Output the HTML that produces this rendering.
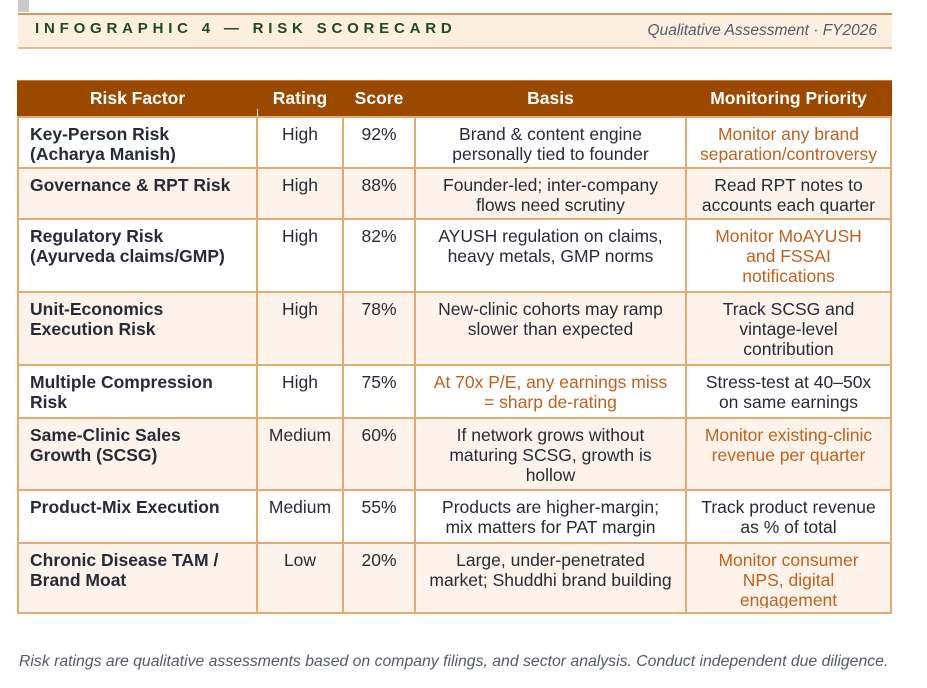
<!DOCTYPE html>
<html>
<head>
<meta charset="utf-8">
<style>
  html, body { margin:0; padding:0; }
  body { width:927px; height:688px; background:#ffffff; position:relative; overflow:hidden;
         font-family:"Liberation Sans", Arial, sans-serif; color:#272b37; }
  .abs { position:absolute; }
  .hl { position:absolute; left:17px; width:875px; height:2px; background:#e3ab70; }
  .vl { position:absolute; top:116px; width:2px; height:498px; background:#e3ab70; }
  .bg { position:absolute; left:17px; width:875px; }
  .c { position:absolute; font-size:17.5px; line-height:20px; white-space:nowrap; overflow:hidden; }
  .c1 { left:30px; width:225px; font-weight:bold; text-align:left; }
  .c2 { left:258px; width:84px; text-align:center; }
  .c3 { left:344px; width:70px; text-align:center; }
  .c4 { left:416px; width:269px; text-align:center; }
  .c5 { left:687px; width:203px; text-align:center; }
  .or { color:#c0611d; }
  .r1 { top:124px; height:38.5px; }
  .r2 { top:175px; height:38.5px; }
  .r3 { top:226px; height:59px; }
  .r4 { top:299px; height:59px; }
  .r5 { top:372px; height:40px; }
  .r6 { top:425px; height:58px; }
  .r7 { top:497px; height:40px; }
  .r8 { top:550px; height:57.5px; }
  .h { position:absolute; top:80px; height:36px; line-height:36px; color:#ffffff; font-weight:bold;
       font-size:17.5px; text-align:center; white-space:nowrap; }
</style>
</head>
<body>
  <!-- grey tab top-left -->
  <div class="abs" style="left:18px; top:0; width:11px; height:12px; background:#c9c9c9;"></div>

  <!-- title band -->
  <div class="abs" style="left:18px; top:13px; width:874px; height:35px; background:#fdefdf;"></div>
  <div class="abs" style="left:18px; top:13px; width:874px; height:2px; background:#d6965e;"></div>
  <div class="abs" style="left:18px; top:47px; width:874px; height:2px; background:#e6bb8c;"></div>
  <div class="abs" style="left:35px; top:19px; line-height:20px; font-size:15px; font-weight:bold; letter-spacing:4.8px; color:#1f4a1f; white-space:nowrap;">INFOGRAPHIC 4 — RISK SCORECARD</div>
  <div class="abs" style="right:50px; top:21px; line-height:20px; font-size:15.5px; font-style:italic; color:#555a68; white-space:nowrap;">Qualitative Assessment · FY2026</div>

  <!-- header -->
  <div class="abs" style="left:17px; top:80px; width:875px; height:36px; background:#9b4900;"></div>
  <div class="abs" style="left:17px; top:80px; width:875px; height:1px; background:#c77a3a;"></div>
  <div class="abs" style="left:257px; top:109px; width:1px; height:7px; background:#ffffff;"></div>
  <div class="h" style="left:19px; width:237px;">Risk Factor</div>
  <div class="h" style="left:258px; width:84px;">Rating</div>
  <div class="h" style="left:344px; width:70px;">Score</div>
  <div class="h" style="left:416px; width:269px;">Basis</div>
  <div class="h" style="left:687px; width:203px;">Monitoring Priority</div>

  <!-- row backgrounds -->
  <div class="bg" style="top:118px; height:49px; background:#ffffff;"></div>
  <div class="bg" style="top:169px; height:49px; background:#fdf3ea;"></div>
  <div class="bg" style="top:220px; height:71px; background:#ffffff;"></div>
  <div class="bg" style="top:293px; height:71px; background:#fdf3ea;"></div>
  <div class="bg" style="top:366px; height:51px; background:#ffffff;"></div>
  <div class="bg" style="top:419px; height:70px; background:#fdf3ea;"></div>
  <div class="bg" style="top:491px; height:51px; background:#ffffff;"></div>
  <div class="bg" style="top:544px; height:68px; background:#fdf3ea;"></div>

  <!-- grid lines -->
  <div class="hl" style="top:116px;"></div>
  <div class="hl" style="top:167px;"></div>
  <div class="hl" style="top:218px;"></div>
  <div class="hl" style="top:291px;"></div>
  <div class="hl" style="top:364px;"></div>
  <div class="hl" style="top:417px;"></div>
  <div class="hl" style="top:489px;"></div>
  <div class="hl" style="top:542px;"></div>
  <div class="hl" style="top:612px;"></div>
  <div class="vl" style="left:17px;"></div>
  <div class="vl" style="left:256px;"></div>
  <div class="vl" style="left:342px;"></div>
  <div class="vl" style="left:414px;"></div>
  <div class="vl" style="left:685px;"></div>
  <div class="vl" style="left:890px;"></div>

  <!-- row 1 -->
  <div class="c c1 r1">Key-Person Risk<br>(Acharya Manish)</div>
  <div class="c c2 r1">High</div>
  <div class="c c3 r1">92%</div>
  <div class="c c4 r1">Brand &amp; content engine<br>personally tied to founder</div>
  <div class="c c5 or r1">Monitor any brand<br>separation/controversy</div>

  <!-- row 2 -->
  <div class="c c1 r2">Governance &amp; RPT Risk</div>
  <div class="c c2 r2">High</div>
  <div class="c c3 r2">88%</div>
  <div class="c c4 r2">Founder-led; inter-company<br>flows need scrutiny</div>
  <div class="c c5 r2">Read RPT notes to<br>accounts each quarter</div>

  <!-- row 3 -->
  <div class="c c1 r3">Regulatory Risk<br>(Ayurveda claims/GMP)</div>
  <div class="c c2 r3">High</div>
  <div class="c c3 r3">82%</div>
  <div class="c c4 r3">AYUSH regulation on claims,<br>heavy metals, GMP norms</div>
  <div class="c c5 or r3">Monitor MoAYUSH<br>and FSSAI<br>notifications</div>

  <!-- row 4 -->
  <div class="c c1 r4">Unit-Economics<br>Execution Risk</div>
  <div class="c c2 r4">High</div>
  <div class="c c3 r4">78%</div>
  <div class="c c4 r4">New-clinic cohorts may ramp<br>slower than expected</div>
  <div class="c c5 r4">Track SCSG and<br>vintage-level<br>contribution</div>

  <!-- row 5 -->
  <div class="c c1 r5">Multiple Compression<br>Risk</div>
  <div class="c c2 r5">High</div>
  <div class="c c3 r5">75%</div>
  <div class="c c4 or r5">At 70x P/E, any earnings miss<br>= sharp de-rating</div>
  <div class="c c5 r5">Stress-test at 40–50x<br>on same earnings</div>

  <!-- row 6 -->
  <div class="c c1 r6">Same-Clinic Sales<br>Growth (SCSG)</div>
  <div class="c c2 r6">Medium</div>
  <div class="c c3 r6">60%</div>
  <div class="c c4 r6">If network grows without<br>maturing SCSG, growth is<br>hollow</div>
  <div class="c c5 or r6">Monitor existing-clinic<br>revenue per quarter</div>

  <!-- row 7 -->
  <div class="c c1 r7">Product-Mix Execution</div>
  <div class="c c2 r7">Medium</div>
  <div class="c c3 r7">55%</div>
  <div class="c c4 r7">Products are higher-margin;<br>mix matters for PAT margin</div>
  <div class="c c5 r7">Track product revenue<br>as % of total</div>

  <!-- row 8 -->
  <div class="c c1 r8">Chronic Disease TAM /<br>Brand Moat</div>
  <div class="c c2 r8">Low</div>
  <div class="c c3 r8">20%</div>
  <div class="c c4 r8">Large, under-penetrated<br>market; Shuddhi brand building</div>
  <div class="c c5 or r8">Monitor consumer<br>NPS, digital<br>engagement</div>

  <!-- footnote -->
  <div class="abs" style="left:19px; top:652px; line-height:20px; font-size:15.8px; font-style:italic; color:#555a68; white-space:nowrap;">Risk ratings are qualitative assessments based on company filings, and sector analysis. Conduct independent due diligence.</div>
</body>
</html>
